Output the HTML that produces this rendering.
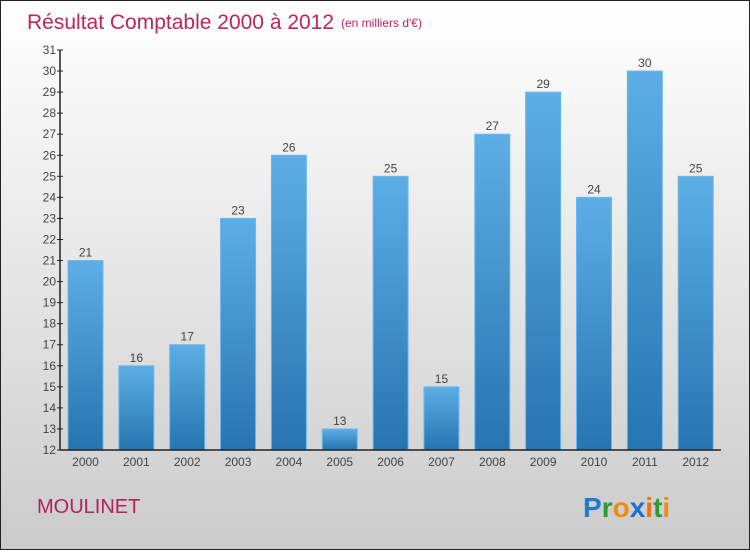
<!DOCTYPE html>
<html><head><meta charset="utf-8"><style>
html,body{margin:0;padding:0;}
body{width:750px;height:550px;overflow:hidden;font-family:"Liberation Sans",sans-serif;}
#wrap{position:relative;width:748px;height:548px;border:1px solid #222;background:linear-gradient(#ffffff,#e6e6e6 50%,#cbcbcb);}
</style></head><body>
<div id="wrap">
<svg id="chart" width="748" height="548">
<defs><linearGradient id="bg" x1="0" y1="0" x2="0" y2="1"><stop offset="0" stop-color="#5daee6"/><stop offset="1" stop-color="#2674b0"/></linearGradient></defs>
<text x="26" y="28" font-size="21" fill="#c0245a">Résultat Comptable 2000 à 2012</text>
<text x="340" y="26" font-size="12" fill="#c0245a">(en milliers d'€)</text>
<text x="36" y="512" font-size="20" fill="#b0245a">MOULINET</text>
<g font-size="28" font-weight="bold" font-family="Liberation Sans,sans-serif">
<text x="582" y="516"><tspan fill="#1e7bd0">P</tspan><tspan fill="#2a9a3a">r</tspan><tspan fill="#f08a10">o</tspan><tspan fill="#1e6fd0">x</tspan><tspan fill="#f07010">i</tspan><tspan fill="#2a9a3a">t</tspan><tspan fill="#f08a10">i</tspan></text></g>
<g id="plot"></g>
</svg>
</div>
<script>
const categories=["2000","2001","2002","2003","2004","2005","2006","2007","2008","2009","2010","2011","2012"];
const values=[21,16,17,23,26,13,25,15,27,29,24,30,25];
const yTicks=[12,13,14,15,16,17,18,19,20,21,22,23,24,25,26,27,28,29,30,31];
const NS="http://www.w3.org/2000/svg";
const g=document.getElementById("plot");
const x0=59,yBase=449,yTop=49,yMin=12,yMax=31,step=50.85,bw=35,first=67;
function y(v){return yBase-(v-yMin)*(yBase-yTop)/(yMax-yMin);}
function xc(i){return first+i*step;}
function mk(t,a){const e=document.createElementNS(NS,t);for(const k in a)e.setAttribute(k,a[k]);g.appendChild(e);return e;}
yTicks.forEach(v=>{
 const l=mk("line",{x1:x0-3,x2:x0+3,y1:y(v),y2:y(v),stroke:"#222"});
 
 
 const t=mk("text",{x:x0-4,y:y(v)+4,"font-size":12,"text-anchor":"end",fill:"#444"});
 t.textContent=v;
 
 
});
values.forEach((v,i)=>{
 const r=mk("rect",{x:xc(i),y:y(v),width:bw,height:yBase-y(v),fill:"url(#bg)",stroke:"#6cb8ee","stroke-width":1});
 
 
 const t=mk("text",{x:xc(i)+bw/2,y:y(v)-4,"font-size":12,"text-anchor":"middle",fill:"#444"});
 t.textContent=v;
 
 
 const c=mk("text",{x:xc(i)+bw/2,y:yBase+16,"font-size":12,"text-anchor":"middle",fill:"#444"});
 c.textContent=categories[i];
 
 
});
const ya=mk("line",{x1:x0,x2:x0,y1:yTop,y2:yBase,stroke:"#222","stroke-width":1.5});


const xa=mk("line",{x1:x0,x2:720,y1:yBase,y2:yBase,stroke:"#222","stroke-width":1.5});


</script>
</body></html>
